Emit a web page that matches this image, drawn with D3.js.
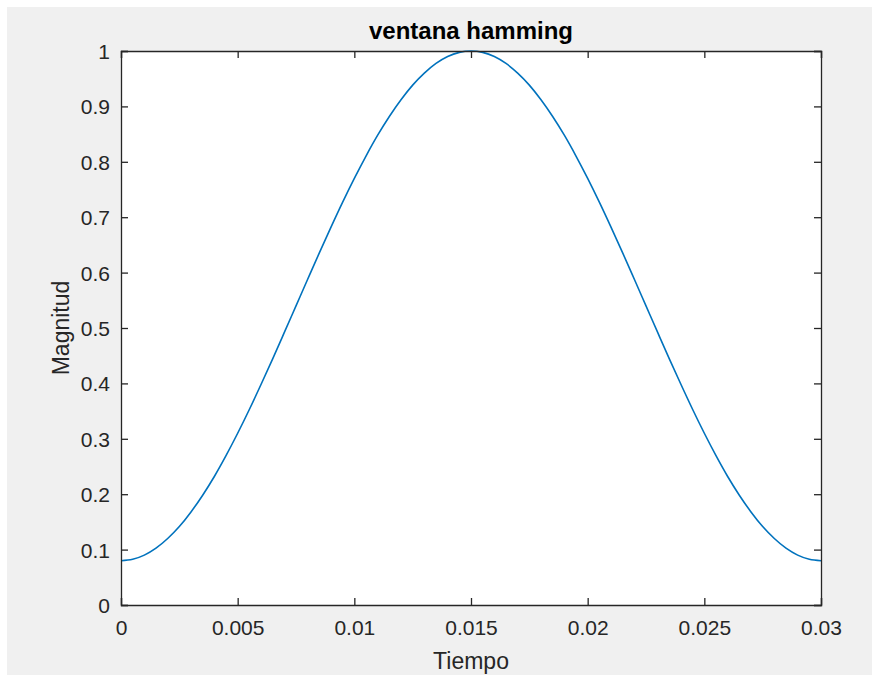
<!DOCTYPE html>
<html>
<head>
<meta charset="utf-8">
<script src="https://cdn.jsdelivr.net/npm/d3@7"></script>
<style>
  html, body { margin: 0; padding: 0; background: #ffffff; }
  svg { display: block; font-family: "Liberation Sans", Arial, Helvetica, sans-serif; }
</style>
</head>
<body>
<svg id="chart" width="872" height="675"></svg>
<script>
// ---- data ----
const tiempo = [0, 0.0005, 0.001, 0.0015, 0.002, 0.0025, 0.003, 0.0035, 0.004, 0.0045, 0.005,
                0.0055, 0.006, 0.0065, 0.007, 0.0075, 0.008, 0.0085, 0.009, 0.0095, 0.010,
                0.0105, 0.011, 0.0115, 0.012, 0.0125, 0.013, 0.0135, 0.014, 0.0145, 0.015,
                0.0155, 0.016, 0.0165, 0.017, 0.0175, 0.018, 0.0185, 0.019, 0.0195, 0.020,
                0.0205, 0.021, 0.0215, 0.022, 0.0225, 0.023, 0.0235, 0.024, 0.0245, 0.025,
                0.0255, 0.026, 0.0265, 0.027, 0.0275, 0.028, 0.0285, 0.029, 0.0295, 0.030];
const magnitud = [0.080, 0.0825, 0.090, 0.1025, 0.120, 0.1416, 0.168, 0.1982, 0.232, 0.2696, 0.310,
                  0.3529, 0.398, 0.4444, 0.492, 0.540, 0.588, 0.6356, 0.682, 0.7271, 0.770,
                  0.8104, 0.848, 0.8818, 0.912, 0.9384, 0.960, 0.9775, 0.990, 0.9975, 1.000,
                  0.9975, 0.990, 0.9775, 0.960, 0.9384, 0.912, 0.8818, 0.848, 0.8104, 0.770,
                  0.7271, 0.682, 0.6356, 0.588, 0.540, 0.492, 0.4444, 0.398, 0.3529, 0.310,
                  0.2696, 0.232, 0.1982, 0.168, 0.1416, 0.120, 0.1025, 0.090, 0.0825, 0.080];
const xTicks = [0, 0.005, 0.01, 0.015, 0.02, 0.025, 0.03];
const xTickLabels = ["0", "0.005", "0.01", "0.015", "0.02", "0.025", "0.03"];
const yTicks = [0, 0.1, 0.2, 0.3, 0.4, 0.5, 0.6, 0.7, 0.8, 0.9, 1];
const yTickLabels = ["0", "0.1", "0.2", "0.3", "0.4", "0.5", "0.6", "0.7", "0.8", "0.9", "1"];
const titleText = "ventana hamming";
const xLabelText = "Tiempo";
const yLabelText = "Magnitud";

// ---- layout ----
const svg = d3.select("#chart");
const W = 872, H = 675;
const box = { left: 121, right: 821, top: 51, bottom: 605 };
const axisColor = "#262626";

svg.append("rect").attr("x", 7).attr("y", 7).attr("width", W - 7).attr("height", H - 7).attr("fill", "#f0f0f0");
svg.append("rect").attr("x", box.left).attr("y", box.top)
  .attr("width", box.right - box.left).attr("height", box.bottom - box.top).attr("fill", "#ffffff");

const x = d3.scaleLinear().domain([0, 0.03]).range([box.left, box.right]);
const y = d3.scaleLinear().domain([0, 1]).range([box.bottom, box.top]);

// data line
const line = d3.line().x((d, i) => x(tiempo[i])).y(d => y(d)).curve(d3.curveMonotoneX);
svg.append("path").datum(magnitud).attr("d", line)
  .attr("fill", "none").attr("stroke", "#0072BD").attr("stroke-width", 1.6);

// axes
const tickLen = 7;
const fmtX = (d) => xTickLabels[xTicks.indexOf(d)];
const fmtY = (d) => yTickLabels[yTicks.indexOf(d)];

const gxB = svg.append("g").attr("transform", `translate(0,${box.bottom})`)
  .call(d3.axisBottom(x).tickValues(xTicks).tickFormat(fmtX).tickSize(-tickLen).tickPadding(15));
const gxT = svg.append("g").attr("transform", `translate(0,${box.top})`)
  .call(d3.axisTop(x).tickValues(xTicks).tickFormat("").tickSize(-tickLen));
const gyL = svg.append("g").attr("transform", `translate(${box.left},0)`)
  .call(d3.axisLeft(y).tickValues(yTicks).tickFormat(fmtY).tickSize(-tickLen).tickPadding(11));
const gyR = svg.append("g").attr("transform", `translate(${box.right},0)`)
  .call(d3.axisRight(y).tickValues(yTicks).tickFormat("").tickSize(-tickLen));

[gxB, gxT, gyL, gyR].forEach(g => {
  g.selectAll(".domain").attr("stroke", axisColor).attr("stroke-width", 1.3);
  g.selectAll(".tick line").attr("stroke", axisColor).attr("stroke-width", 1.3);
  g.selectAll(".tick text").attr("fill", "#262626").style("font-size", "21px")
    .style("font-family", "'Liberation Sans', Arial, sans-serif");
});
gyL.selectAll(".tick text").attr("dy", "0.36em");

// title and labels
svg.append("text").attr("x", (box.left + box.right) / 2).attr("y", 39)
  .attr("text-anchor", "middle").attr("fill", "#000000")
  .style("font-size", "24px").style("font-weight", "bold").text(titleText);
svg.append("text").attr("x", (box.left + box.right) / 2).attr("y", 669)
  .attr("text-anchor", "middle").attr("fill", "#262626")
  .style("font-size", "23px").text(xLabelText);
svg.append("text").attr("transform", `translate(69,${(box.top + box.bottom) / 2}) rotate(-90)`)
  .attr("text-anchor", "middle").attr("fill", "#262626")
  .style("font-size", "23px").text(yLabelText);
</script>
</body>
</html>
